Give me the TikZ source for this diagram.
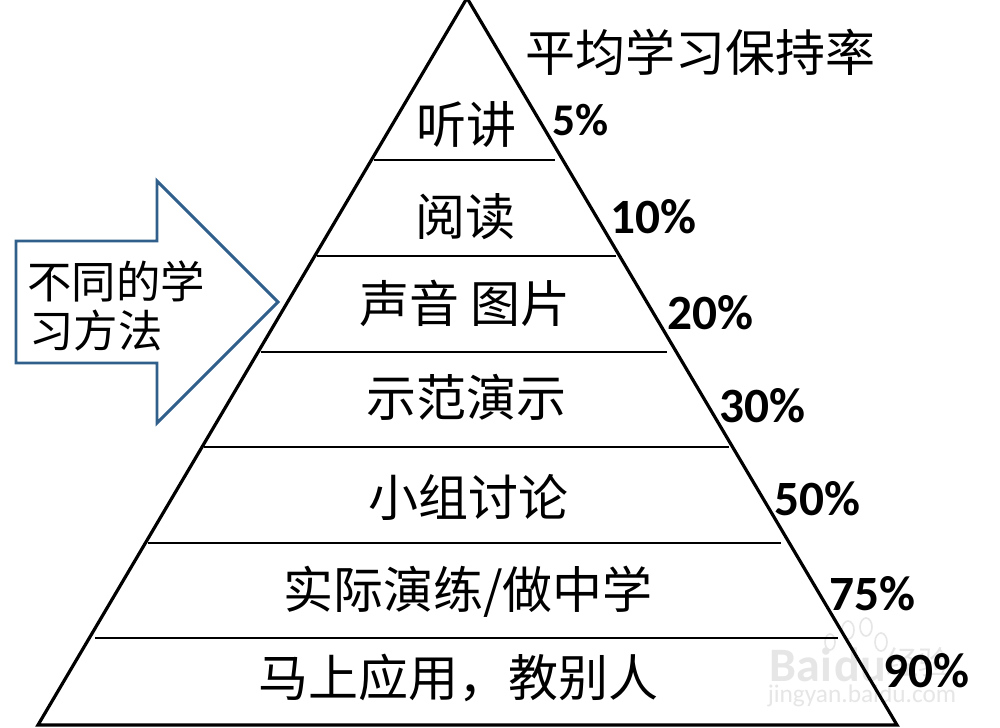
\documentclass[tikz,border=0pt]{standalone}
\usepackage{fontspec}
\setmainfont{Carlito}
\newfontfamily\cjk{Noto Sans CJK SC}
\definecolor{arrowblue}{HTML}{2F5F8A}
\definecolor{wm}{HTML}{E6E6E6}
\tikzset{
  pyr/.style={draw=black,line width=2.4pt,line join=miter},
  tier/.style={draw=black,line width=0.9pt},
  lab/.style={inner sep=0pt,font=\fontsize{37.5}{37.5}\selectfont\cjk},
  arrlab/.style={inner sep=0pt,anchor=west,font=\fontsize{33.3}{33.3}\selectfont\cjk},
  pct/.style={inner sep=0pt,font=\fontsize{37}{37}\selectfont\bfseries},
  wmark/.style={inner sep=0pt,text=wm},
}
\begin{document}
\begin{tikzpicture}[x=0.75pt,y=-0.75pt]
\useasboundingbox (0,0) rectangle (1000,728);
\fill[white] (0,0) rectangle (1000,728);
% watermark
\node[wmark,font=\fontsize{36}{36}\selectfont\bfseries] (wa) at (828,665) {Bai\hspace{2pt}du};
\node[wmark,font=\fontsize{24}{24}\selectfont\cjk] (wc) at (918,662) {经验};
\node[wmark,font=\fontsize{19}{19}\selectfont] (wb) at (862,696) {jingyan.baidu.com};
\draw[wm,line width=1.2pt] (848,630) ellipse (6 and 9) (866,627) ellipse (6 and 9) (881,642) ellipse (6 and 9) (830,642) ellipse (5 and 8);
% pyramid
\draw[pyr] (467,-2) -- (897,725) -- (38,725) -- cycle;
\draw[tier] (374,160) -- (555,160);
\draw[tier] (317,256) -- (616,256);
\draw[tier] (261,352) -- (667,352);
\draw[tier] (204,447) -- (729,447);
\draw[tier] (148,543) -- (781,543);
\draw[tier] (95,638) -- (838,638);
% arrow
\draw[draw=arrowblue,line width=2.2pt,line join=miter]
  (157,181) -- (278,302) -- (157,423) -- (157,363) -- (16,363) -- (16,241) -- (157,241) -- cycle;
% labels
\node[lab] (t0) at (700,52) {平均学习保持率};
\node[lab] (t1) at (466,124) {听讲};
\node[lab] (t2) at (465,217) {阅读};
\node[lab] (t3) at (465,303) {声音 图片};
\node[lab] (t4) at (466,397) {示范演示};
\node[lab] (t5) at (468,497) {小组讨论};
\node[lab] (t6) at (468,592) {实际演练/做中学};
\node[lab] (t7) at (458,678) {马上应用，教别人};
\node[arrlab] (a1) at (27,281) {不同的学};
\node[arrlab] (a2) at (29,331) {习方法};
\node[pct,font=\fontsize{34}{34}\selectfont\bfseries] (p1) at (581,120) {5\%};
\node[pct] (p2) at (653,217) {10\%};
\node[pct] (p3) at (710,313) {20\%};
\node[pct] (p4) at (762,406) {30\%};
\node[pct] (p5) at (817,499) {50\%};
\node[pct] (p6) at (872,594) {75\%};
\node[pct] (p7) at (926,671) {90\%};
\end{tikzpicture}
\end{document}
